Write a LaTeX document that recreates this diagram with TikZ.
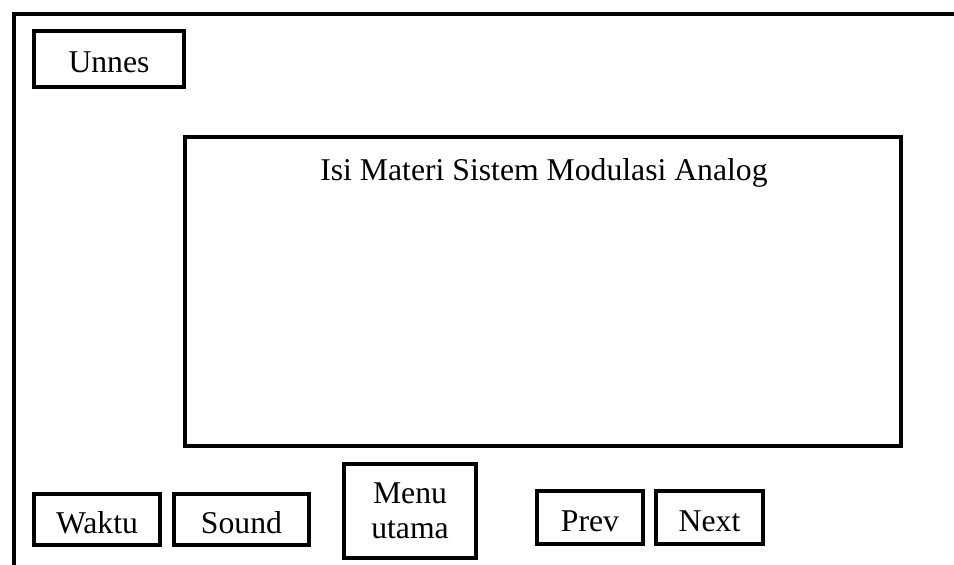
\documentclass[tikz,border=0pt]{standalone}
\usepackage{fontspec}
\setmainfont{Liberation Serif}
\begin{document}
\begin{tikzpicture}[x=1pt, y=-1pt,
  every node/.style={font=\fontsize{31.7}{35}\selectfont},
  kotak/.style={draw, line width=4pt, inner sep=0pt},
  tombol/.style={kotak, text height=27pt, text depth=0pt}]
  \useasboundingbox (0,0) rectangle (954,565);
  % bingkai layar
  \draw[line width=4pt] (14,565) -- (14,14) -- (954,14);
  \node[tombol, minimum width=150pt, minimum height=56pt] (unnes) at (109,59) {Unnes};
  % area isi materi
  \node[kotak, minimum width=716pt, minimum height=309pt] (materi) at (543,291.5) {};
  \node[anchor=base] (judul) at (544,180) {Isi Materi Sistem Modulasi Analog};
  % tombol bawah
  \node[tombol, minimum width=126pt, minimum height=51pt] (waktu) at (97,519.5) {Waktu};
  \node[tombol, minimum width=135pt, minimum height=51pt] (sound) at (241.5,519.5) {Sound};
  \node[kotak, minimum width=132pt, minimum height=94pt, align=center] (menu) at (410,511) {Menu\\utama};
  \node[tombol, minimum width=106pt, minimum height=53pt] (prev) at (590,517.5) {Prev};
  \node[tombol, minimum width=107pt, minimum height=53pt] (next) at (709.5,517.5) {Next};
\end{tikzpicture}
\end{document}
